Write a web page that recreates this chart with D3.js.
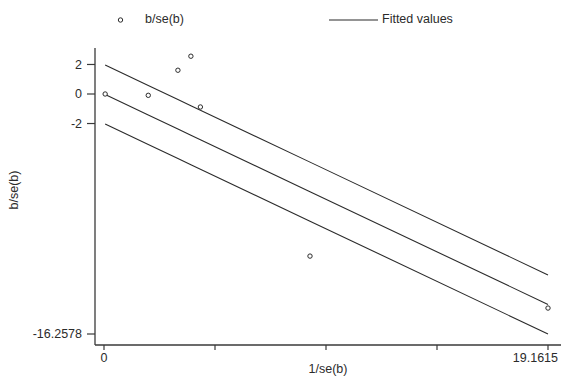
<!DOCTYPE html>
<html>
<head>
<meta charset="utf-8">
<script src="https://cdn.jsdelivr.net/npm/d3@7"></script>
<style>
	body{margin:0;background:#fff;}
	svg{display:block;font-family:"Liberation Sans",Arial,sans-serif;}
</style>
</head>
<body>
<div id="chart"></div>
<script>

// study points: x = 1/se(b), y = b/se(b)
const inv_se = [0.05, 1.91, 3.19, 3.75, 4.16, 8.89, 19.1615]
const b_over_se = [0.0, -0.09, 1.61, 2.56, -0.88, -10.98, -14.5]

// fitted line (through origin) and +/- 2 bands
const slope = -0.74409
const band_offsets = [2, 0, -2]

const x_ticks = [0, 4.790375, 9.58075, 14.371125, 19.1615]
const x_tick_labels = ["0", "", "", "", "19.1615"]
const y_ticks = [2, 0, -2, -16.2578]
const y_tick_labels = ["2", "0", "-2", "-16.2578"]

const W = 561, H = 382
const ink = "#2b2b2b", axis_ink = "#3a3a3a"

const svg = d3.select("#chart").append("svg")
	.attr("width",W).attr("height",H)
	.attr("viewBox","0 0 "+W+" "+H)

const x = d3.scaleLinear().domain([0,19.1615]).range([104,548])
const y = d3.scaleLinear().domain([-16.2578,0]).range([334,94])

const axis_x0 = 95, axis_y0 = 345

// x axis
const gx = svg.append("g").attr("transform","translate(0,"+axis_y0+")")
gx.append("line").attr("x1",axis_x0).attr("x2",W).attr("stroke",axis_ink).attr("stroke-width",1.3)
gx.selectAll(".xt").data(x_ticks).enter().append("line")
	.attr("x1",d=>x(d)).attr("x2",d=>x(d)).attr("y1",0).attr("y2",5)
	.attr("stroke",axis_ink).attr("stroke-width",1.2)
gx.selectAll(".xl").data(x_ticks).enter().append("text")
	.attr("x",(d,i)=>i==x_ticks.length-1 ? 558 : x(d))
	.attr("y",17)
	.attr("text-anchor",(d,i)=>i==x_ticks.length-1 ? "end" : "middle")
	.attr("font-size",12.5).attr("fill",ink)
	.text((d,i)=>x_tick_labels[i])
svg.append("text").attr("x",328).attr("y",373).attr("text-anchor","middle")
	.attr("font-size",12.5).attr("fill",ink).text("1/se(b)")

// y axis
const gy = svg.append("g").attr("transform","translate("+axis_x0+",0)")
gy.append("line").attr("y1",48).attr("y2",axis_y0).attr("stroke",axis_ink).attr("stroke-width",1.3)
gy.selectAll(".yt").data(y_ticks).enter().append("line")
	.attr("x1",-8).attr("x2",0).attr("y1",d=>y(d)).attr("y2",d=>y(d))
	.attr("stroke",axis_ink).attr("stroke-width",1.2)
gy.selectAll(".yl").data(y_ticks).enter().append("text")
	.attr("x",-13).attr("y",d=>y(d)).attr("dy","0.35em")
	.attr("text-anchor","end").attr("font-size",12.5).attr("fill",ink)
	.text((d,i)=>y_tick_labels[i])
svg.append("text").attr("transform","translate(18,190) rotate(-90)")
	.attr("text-anchor","middle").attr("font-size",12.5).attr("fill",ink).text("b/se(b)")

// fitted lines
const xs = inv_se.slice().sort(d3.ascending)
const line = d3.line().x(d=>x(d[0])).y(d=>y(d[1]))
svg.selectAll(".fit").data(band_offsets).enter().append("path")
	.attr("d",off=>line(xs.map(v=>[v, slope*v+off])))
	.attr("fill","none").attr("stroke",ink).attr("stroke-width",1.1)

// points
svg.selectAll(".pt").data(inv_se).enter().append("circle")
	.attr("cx",d=>x(d)).attr("cy",(d,i)=>y(b_over_se[i])).attr("r",2.2)
	.attr("fill","#fff").attr("stroke",ink).attr("stroke-width",1)

// legend
const leg = svg.append("g")
leg.append("circle").attr("cx",120.5).attr("cy",20).attr("r",2.2)
	.attr("fill","#fff").attr("stroke",ink).attr("stroke-width",1)
leg.append("text").attr("x",145).attr("y",19).attr("dy","0.35em")
	.attr("font-size",12.5).attr("fill",ink).text("b/se(b)")
leg.append("line").attr("x1",329).attr("x2",378).attr("y1",20).attr("y2",20)
	.attr("stroke",ink).attr("stroke-width",1.1)
leg.append("text").attr("x",382).attr("y",19).attr("dy","0.35em")
	.attr("font-size",12.5).attr("fill",ink).text("Fitted values")

</script>
</body>
</html>
